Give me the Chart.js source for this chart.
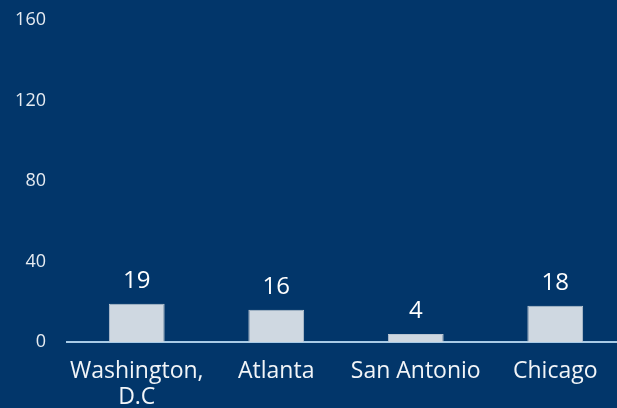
<!DOCTYPE html>
<html>
<head>
<meta charset="utf-8">
<script src="https://cdn.jsdelivr.net/npm/chart.js@4"></script>
<style>
  html, body { margin: 0; padding: 0; background: #02366a; overflow: hidden; }
  #stat { display: block; }
</style>
</head>
<body>
<canvas id="stat" width="630" height="408"></canvas>
<script>
const cities = [["Washington,", "D.C"], "Atlanta", "San Antonio", "Chicago"];
const counts = [19, 16, 4, 18];
const yTicks = [0, 40, 80, 120, 160];

const fontName = "'Open Sans', sans-serif";

// numbers above the bars
const barLabels = {
  id: "barLabels",
  afterDatasetsDraw(chart) {
    const ctx = chart.ctx;
    const meta = chart.getDatasetMeta(0);
    ctx.save();
    ctx.font = "24px " + fontName;
    ctx.fillStyle = "#ffffff";
    ctx.textAlign = "center";
    ctx.textBaseline = "alphabetic";
    meta.data.forEach((bar, i) => {
      ctx.fillText(counts[i], bar.x, bar.y - 16);
    });
    ctx.restore();
  }
};

const ctx = document.querySelector("#stat").getContext("2d");

const chart = new Chart(ctx, {
  type: "bar",
  data: {
    labels: cities,
    datasets: [
      {
        data: counts,
        backgroundColor: "#cfd8e1",
        borderColor: "#b9c5d1",
        borderWidth: 1,
        barPercentage: 0.4,
        categoryPercentage: 1,
      },
    ],
  },
  options: {
    responsive: false,
    animation: false,
    layout: { padding: { top: 20, right: 5, left: 0, bottom: 0 } },
    plugins: {
      legend: { display: false },
      tooltip: { enabled: false },
    },
    scales: {
      x: {
        grid: { display: false, drawTicks: false },
        border: { display: true, color: "#a9cbe6", width: 2 },
        ticks: {
          color: "#f2f5f8",
          font: { family: fontName, size: 23, lineHeight: 1.13 },
          padding: 16,
          maxRotation: 0,
          autoSkip: false,
        },
        afterFit(scale) { scale.height = 66; },
      },
      y: {
        min: 0,
        max: 160,
        grid: { display: false, drawTicks: false },
        border: { display: false },
        afterBuildTicks(scale) {
          scale.ticks = yTicks.map((v) => ({ value: v }));
        },
        ticks: {
          color: "#e6ebf1",
          font: { family: fontName, size: 18 },
          padding: 21,
        },
        afterFit(scale) {
          scale.width = 67;
          scale.paddingTop = 0;
          scale.paddingBottom = 0;
        },
      },
    },
  },
  plugins: [barLabels],
});
</script>
</body>
</html>
